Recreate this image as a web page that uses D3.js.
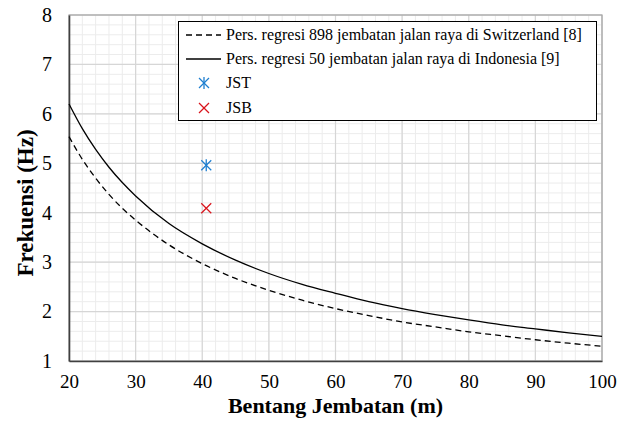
<!DOCTYPE html>
<html>
<head>
<meta charset="utf-8">
<script src="https://cdn.jsdelivr.net/npm/d3@7"></script>
<style>
body { margin: 0; background: #fff; }
svg text { font-family: 'Liberation Serif', 'Times New Roman', 'DejaVu Serif', serif; }
</style>
</head>
<body>
<script>
// span (m)
var spans = [20, 22, 24, 26, 28, 30, 35, 40, 45, 50, 55, 60, 65, 70, 75, 80, 85, 90, 95, 100];
// frequency (Hz)
var swissFreq = [5.54, 5.08, 4.70, 4.37, 4.09, 3.85, 3.35, 2.97, 2.67, 2.43, 2.23, 2.06, 1.92, 1.79, 1.69, 1.59, 1.51, 1.43, 1.36, 1.30];
var indoFreq = [6.20, 5.70, 5.28, 4.92, 4.61, 4.34, 3.78, 3.37, 3.04, 2.77, 2.55, 2.37, 2.20, 2.06, 1.94, 1.83, 1.73, 1.65, 1.57, 1.50];
// measured bridges
var jst = {name: "JST", span: 40.6, freq: 4.96};
var jsb = {name: "JSB", span: 40.6, freq: 4.09};
var xTicks = [20, 30, 40, 50, 60, 70, 80, 90, 100];
var yTicks = [1, 2, 3, 4, 5, 6, 7, 8];
var legendLabels = [
	"Pers. regresi 898 jembatan jalan raya di Switzerland [8]",
	"Pers. regresi 50 jembatan jalan raya di Indonesia [9]",
	"JST",
	"JSB"
];

var width = 619, height = 422;
var pLeft = 69, pRight = 602, pTop = 15, pBottom = 361;

var svg = d3.select("body").append("svg")
	.attr("width", width)
	.attr("height", height);

var x = d3.scaleLinear().domain([20, 100]).range([pLeft, pRight]);
var y = d3.scaleLinear().domain([1, 8]).range([pBottom, pTop]);

// minor grid
var grid = svg.append("g");
grid.selectAll(".vminor")
	.data(d3.range(20, 100.1, 2))
	.enter().append("line")
	.attr("x1", d => x(d)).attr("x2", d => x(d))
	.attr("y1", pTop).attr("y2", pBottom)
	.attr("stroke", "#ececec").attr("stroke-width", 1);
grid.selectAll(".hminor")
	.data(d3.range(1, 8.01, 0.2))
	.enter().append("line")
	.attr("x1", pLeft).attr("x2", pRight)
	.attr("y1", d => y(d)).attr("y2", d => y(d))
	.attr("stroke", "#ececec").attr("stroke-width", 1);

// major grid
grid.selectAll(".vmajor")
	.data(xTicks)
	.enter().append("line")
	.attr("x1", d => x(d)).attr("x2", d => x(d))
	.attr("y1", pTop).attr("y2", pBottom)
	.attr("stroke", "#d6d6d6").attr("stroke-width", 1.2);
grid.selectAll(".hmajor")
	.data(yTicks)
	.enter().append("line")
	.attr("x1", pLeft).attr("x2", pRight)
	.attr("y1", d => y(d)).attr("y2", d => y(d))
	.attr("stroke", "#d6d6d6").attr("stroke-width", 1.2);

// outer frame
svg.append("rect")
	.attr("x", pLeft).attr("y", pTop)
	.attr("width", pRight - pLeft).attr("height", pBottom - pTop)
	.attr("fill", "none").attr("stroke", "#a6a6a6").attr("stroke-width", 1.2);

// axes
var xAxis = svg.append("g")
	.attr("transform", "translate(0," + pBottom + ")")
	.call(d3.axisBottom(x).tickValues(xTicks).tickFormat(d3.format("d")).tickSize(0).tickPadding(14));
xAxis.select(".domain").attr("stroke", "#404040").attr("stroke-width", 1.6);
xAxis.selectAll("text").attr("font-size", 19).attr("fill", "#000");

var yAxis = svg.append("g")
	.attr("transform", "translate(" + pLeft + ",0)")
	.call(d3.axisLeft(y).tickValues(yTicks).tickFormat(d3.format("d")).tickSize(0).tickPadding(17));
yAxis.select(".domain").attr("stroke", "#404040").attr("stroke-width", 1.6);
yAxis.selectAll("text").attr("font-size", 20).attr("fill", "#000");

// axis titles
svg.append("text")
	.attr("x", (pLeft + pRight) / 2).attr("y", 413)
	.attr("text-anchor", "middle")
	.attr("font-size", 22).attr("font-weight", "bold")
	.text("Bentang Jembatan (m)");
svg.append("text")
	.attr("transform", "translate(33,203) rotate(-90)")
	.attr("text-anchor", "middle")
	.attr("font-size", 23).attr("font-weight", "bold")
	.text("Frekuensi (Hz)");

// curves
var line = d3.line().curve(d3.curveMonotoneX)
	.x(d => x(d[0])).y(d => y(d[1]));
svg.append("path")
	.datum(d3.zip(spans, swissFreq))
	.attr("d", line)
	.attr("fill", "none").attr("stroke", "#000").attr("stroke-width", 1.3)
	.attr("stroke-dasharray", "6,4");
svg.append("path")
	.datum(d3.zip(spans, indoFreq))
	.attr("d", line)
	.attr("fill", "none").attr("stroke", "#000").attr("stroke-width", 1.3);

// markers
function star(g, cx, cy, color) {
	var r = 5;
	g.append("line").attr("x1", cx - r).attr("x2", cx + r).attr("y1", cy - r).attr("y2", cy + r)
		.attr("stroke", color).attr("stroke-width", 1.3);
	g.append("line").attr("x1", cx - r).attr("x2", cx + r).attr("y1", cy + r).attr("y2", cy - r)
		.attr("stroke", color).attr("stroke-width", 1.3);
	g.append("line").attr("x1", cx).attr("x2", cx).attr("y1", cy - r - 1).attr("y2", cy + r + 1)
		.attr("stroke", color).attr("stroke-width", 1.3);
}
function cross(g, cx, cy, color) {
	var r = 5;
	g.append("line").attr("x1", cx - r).attr("x2", cx + r).attr("y1", cy - r).attr("y2", cy + r)
		.attr("stroke", color).attr("stroke-width", 1.3);
	g.append("line").attr("x1", cx - r).attr("x2", cx + r).attr("y1", cy + r).attr("y2", cy - r)
		.attr("stroke", color).attr("stroke-width", 1.3);
}
var marks = svg.append("g");
star(marks, x(jst.span), y(jst.freq), "#1f7fd0");
cross(marks, x(jsb.span), y(jsb.freq), "#d9141c");

// legend
var lg = svg.append("g");
lg.append("rect")
	.attr("x", 178.5).attr("y", 21.5)
	.attr("width", 418).attr("height", 99)
	.attr("fill", "#fff").attr("stroke", "#000").attr("stroke-width", 1);
var rows = [35, 59, 83, 108];
lg.append("line").attr("x1", 186).attr("x2", 221).attr("y1", rows[0]).attr("y2", rows[0])
	.attr("stroke", "#000").attr("stroke-width", 1.3).attr("stroke-dasharray", "6,4");
lg.append("line").attr("x1", 186).attr("x2", 221).attr("y1", rows[1]).attr("y2", rows[1])
	.attr("stroke", "#000").attr("stroke-width", 1.3);
star(lg, 204, rows[2], "#1f7fd0");
cross(lg, 204, rows[3], "#d9141c");
lg.selectAll("text")
	.data(legendLabels)
	.enter().append("text")
	.attr("x", 226)
	.attr("y", (d, i) => rows[i] + 5)
	.attr("font-size", 16)
	.text(d => d);
</script>
</body>
</html>
